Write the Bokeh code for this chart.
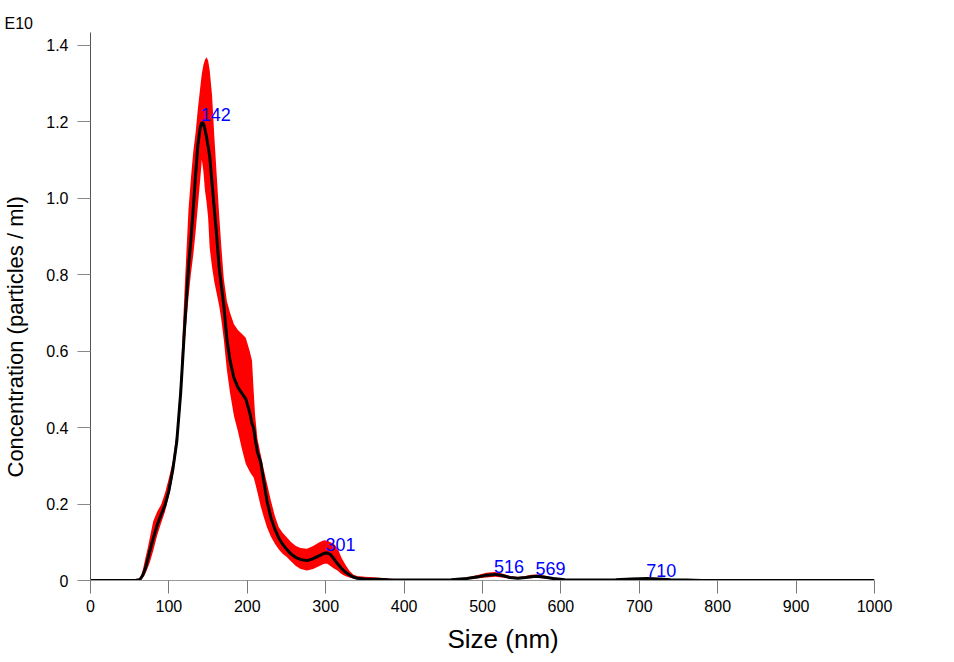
from bokeh.plotting import figure
from bokeh.models import Range1d, FixedTicker, CustomJSTickFormatter, Title, ColumnDataSource
from bokeh.core.properties import value
from bokeh.embed import file_html
from bokeh.resources import INLINE

size_nm = [0, 50, 58, 62, 64, 67, 70, 73, 76, 80, 85, 90, 95, 100, 105, 110, 115, 120, 125, 128,
           131, 134, 137, 140, 142, 144, 146, 148, 150, 152, 155, 158, 161, 164, 167, 170, 174, 178, 183, 188,
           193, 198, 203, 206, 208, 210, 213, 217, 221, 225, 230, 235, 240, 245, 250, 256, 262, 268, 276, 284,
           292, 298, 302, 306, 310, 315, 320, 325, 330, 335, 340, 350, 365, 380, 400, 430, 460, 480, 495, 505,
           516, 525, 535, 545, 555, 562, 569, 578, 590, 605, 620, 645, 670, 690, 710, 725, 740, 760, 780, 850,
           1000]
mean_conc = [0, 0, 0.0005, 0.002, 0.005, 0.015, 0.032, 0.055, 0.08, 0.11, 0.145, 0.172, 0.197, 0.235, 0.29, 0.362, 0.49, 0.66, 0.82, 0.89,
             0.97, 1.06, 1.14, 1.185, 1.198, 1.195, 1.18, 1.16, 1.135, 1.11, 1.04, 0.97, 0.90, 0.82, 0.77, 0.72, 0.63, 0.575, 0.53, 0.505,
             0.49, 0.475, 0.44, 0.41, 0.40, 0.37, 0.335, 0.31, 0.26, 0.209, 0.165, 0.135, 0.112, 0.095, 0.082, 0.069, 0.06, 0.055, 0.052, 0.057,
             0.065, 0.071, 0.072, 0.068, 0.058, 0.044, 0.032, 0.022, 0.015, 0.009, 0.006, 0.004, 0.003, 0.002, 0.001, 0.001, 0.002, 0.005, 0.01, 0.014,
             0.016, 0.013, 0.008, 0.006, 0.008, 0.01, 0.011, 0.009, 0.005, 0.002, 0.001, 0.001, 0.002, 0.004, 0.005, 0.004, 0.002, 0.001, 0, 0,
             0]
lower_conc = [0, 0, 0, 0.001, 0.002, 0.008, 0.018, 0.033, 0.05, 0.078, 0.118, 0.15, 0.18, 0.22, 0.272, 0.345, 0.46, 0.62, 0.74, 0.80,
              0.85, 0.91, 0.98, 1.05, 1.10, 1.07, 1.02, 0.99, 0.95, 0.87, 0.82, 0.78, 0.75, 0.72, 0.68, 0.63, 0.55, 0.49, 0.43, 0.39,
              0.345, 0.305, 0.285, 0.275, 0.27, 0.255, 0.23, 0.195, 0.166, 0.14, 0.115, 0.097, 0.082, 0.07, 0.062, 0.05, 0.038, 0.03, 0.026, 0.03,
              0.038, 0.044, 0.044, 0.038, 0.032, 0.026, 0.017, 0.012, 0.008, 0.005, 0.003, 0.002, 0.001, 0.001, 0, 0, 0.001, 0.003, 0.006, 0.008,
              0.01, 0.008, 0.005, 0.004, 0.005, 0.006, 0.007, 0.005, 0.003, 0.001, 0, 0, 0.001, 0.002, 0.003, 0.002, 0.001, 0, 0, 0,
              0]
upper_conc = [0, 0, 0.001, 0.004, 0.01, 0.03, 0.058, 0.085, 0.115, 0.155, 0.18, 0.198, 0.228, 0.268, 0.312, 0.39, 0.53, 0.76, 0.97, 1.05,
              1.12, 1.17, 1.235, 1.29, 1.325, 1.348, 1.362, 1.368, 1.36, 1.335, 1.27, 1.16, 1.06, 0.96, 0.87, 0.79, 0.73, 0.70, 0.67, 0.655,
              0.645, 0.635, 0.60, 0.575, 0.50, 0.43, 0.37, 0.33, 0.29, 0.255, 0.21, 0.17, 0.14, 0.125, 0.114, 0.10, 0.09, 0.085, 0.083, 0.09,
              0.1, 0.105, 0.104, 0.10, 0.097, 0.085, 0.06, 0.042, 0.026, 0.016, 0.012, 0.01, 0.008, 0.005, 0.002, 0.002, 0.004, 0.008, 0.015, 0.02,
              0.022, 0.018, 0.012, 0.009, 0.012, 0.015, 0.016, 0.013, 0.008, 0.004, 0.002, 0.002, 0.004, 0.006, 0.007, 0.006, 0.004, 0.002, 0.001, 0,
              0]

peak_sizes = [142, 301, 516, 569, 710]
peak_conc = [1.198, 0.072, 0.016, 0.011, 0.005]
peak_labels = ["142", "301", "516", "569", "710"]

x_ticks = [0, 100, 200, 300, 400, 500, 600, 700, 800, 900, 1000]
y_ticks = [0, 0.2, 0.4, 0.6, 0.8, 1.0, 1.2, 1.4]

FONT = "Liberation Sans"

p = figure(width=938, height=660, output_backend="svg", toolbar_location=None,
           x_range=Range1d(0, 1000), y_range=Range1d(0, 1.433),
           min_border_left=90, min_border_right=64, min_border_top=32, min_border_bottom=80,
           title="E10")
p.outline_line_color = None
p.xgrid.grid_line_color = None
p.ygrid.grid_line_color = None
p.background_fill_color = "white"

p.title.text_font = FONT
p.title.text_font_size = "16px"
p.title.text_font_style = "normal"
p.title.text_color = "black"
p.title.align = "left"
p.title.offset = -86
p.title.standoff = 2

src = ColumnDataSource(dict(x=size_nm, m=mean_conc, lo=lower_conc, hi=upper_conc))
p.varea(x="x", y1="lo", y2="hi", source=src, fill_color="#FF0000")
p.line(x="x", y="m", source=src, line_color="black", line_width=3)

lsrc = ColumnDataSource(dict(x=peak_sizes, y=peak_conc, t=peak_labels))
p.text(x="x", y="y", text="t", source=lsrc, text_color="#0000FF", text_font=value(FONT),
       text_font_size="18px", text_align="left", text_baseline="middle", y_offset=-8, x_offset=-1)

for ax in (p.xaxis[0], p.yaxis[0]):
    ax.major_label_text_font = FONT
    ax.major_label_text_font_size = "16px"
    ax.major_label_text_color = "black"
    ax.major_tick_out = 13
    ax.major_tick_in = 0
    ax.minor_tick_out = 0
    ax.minor_tick_in = 0

p.xaxis.ticker = FixedTicker(ticks=x_ticks)
p.yaxis.ticker = FixedTicker(ticks=y_ticks)
p.yaxis.formatter = CustomJSTickFormatter(code="return tick == 0 ? '0' : tick.toFixed(1);")
p.xaxis.axis_line_color = "#9a9a9a"
p.xaxis.major_tick_line_color = "#777777"
p.xaxis.major_label_standoff = 6
p.yaxis.axis_line_color = "#555555"
p.yaxis.major_tick_line_color = "#888888"
p.yaxis.major_label_standoff = 9

xt = Title(text="Size (nm)", text_font=FONT, text_font_size="26px", text_font_style="normal",
           text_color="black", align="left", offset=357, standoff=14)
p.add_layout(xt, "below")
spacer = Title(text=" ", text_font=FONT, text_font_size="10px", standoff=3)
p.add_layout(spacer, "left")
yt = Title(text="Concentration (particles / ml)", text_font=FONT, text_font_size="22px",
           text_font_style="normal", text_color="black", align="left", offset=103, standoff=0)
p.add_layout(yt, "left")

open("out.html", "w").write(file_html(p, INLINE))
